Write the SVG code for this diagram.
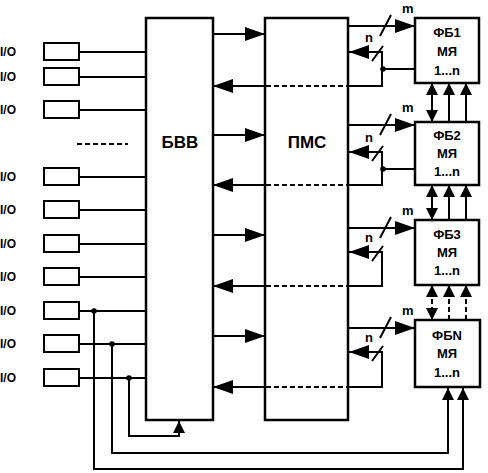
<svg xmlns="http://www.w3.org/2000/svg" width="488" height="473" viewBox="0 0 488 473">
<style>
text{font-family:"Liberation Sans",Arial,sans-serif;font-weight:bold;fill:#000}
.io{font-size:12px}
.big{font-size:17px;text-anchor:middle}
.fb{font-size:13px;text-anchor:middle}
.lbl{font-size:13px}
.box{fill:#fff;stroke:#000;stroke-width:2.5}
.w{fill:none;stroke:#000;stroke-width:2}
.d{stroke-dasharray:5 3}
</style>
<defs>
<marker id="ah" markerUnits="userSpaceOnUse" markerWidth="20" markerHeight="14" refX="20" refY="7" orient="auto"><path d="M0,0L20,7L0,14z"/></marker>
<marker id="as" markerUnits="userSpaceOnUse" markerWidth="12" markerHeight="12" refX="12" refY="6" orient="auto-start-reverse"><path d="M0,0L12,6L0,12z"/></marker>
</defs>
<rect width="488" height="473" fill="#fff"/>

<g id="connectors">
<path class="w" d="M79,52H146M79,77H146M79,110H146M79,177H146M79,210H146M79,244H146M79,277H146M79,311H146M79,344H146M79,378H146"/>
<path class="w d" d="M77,144H128"/>
<!-- BBV to PMC -->
<path class="w" marker-end="url(#ah)" d="M213,34H265"/>
<path class="w" marker-end="url(#ah)" d="M213,135H265"/>
<path class="w" marker-end="url(#ah)" d="M213,235H265"/>
<path class="w" marker-end="url(#ah)" d="M213,336H265"/>
<!-- PMC to BBV -->
<path class="w" marker-end="url(#ah)" d="M265,86H213"/>
<path class="w" marker-end="url(#ah)" d="M265,185H213"/>
<path class="w" marker-end="url(#ah)" d="M265,286H213"/>
<path class="w" marker-end="url(#ah)" d="M265,387H213"/>
<path class="w d" d="M266,86H347M266,185H347M266,286H347M266,387H347"/>
<!-- loops n -->
<path class="w" marker-end="url(#ah)" d="M348,86H382V52H349"/>
<path class="w" marker-end="url(#ah)" d="M348,185H382V152H349"/>
<path class="w" marker-end="url(#ah)" d="M348,286H382V252H349"/>
<path class="w" marker-end="url(#ah)" d="M348,387H382V352H349"/>
<path class="w" d="M372,61L383,46M372,161L383,146M372,261L383,246M372,361L383,346"/>
<path class="w" d="M382,69H415M382,169H415"/>
<circle cx="383" cy="69" r="2.8"/>
<circle cx="383" cy="169" r="2.8"/>
<!-- PMC to FB m -->
<path class="w" marker-end="url(#ah)" d="M349,26H415"/>
<path class="w" marker-end="url(#ah)" d="M349,125H415"/>
<path class="w" marker-end="url(#ah)" d="M349,228H415"/>
<path class="w" marker-end="url(#ah)" d="M349,328H415"/>
<path class="w" d="M380,36L391,15M380,135L391,114M380,238L391,217M380,338L391,317"/>
<!-- between FB boxes -->
<path class="w" marker-start="url(#as)" marker-end="url(#as)" d="M432,122V83"/>
<path class="w" marker-end="url(#as)" d="M449,122V83"/>
<path class="w" marker-end="url(#as)" d="M466,122V83"/>
<path class="w" marker-start="url(#as)" marker-end="url(#as)" d="M432,220V185"/>
<path class="w" marker-end="url(#as)" d="M449,220V185"/>
<path class="w" marker-end="url(#as)" d="M466,220V185"/>
<path class="w d" marker-start="url(#as)" marker-end="url(#as)" d="M432,320V285"/>
<path class="w d" marker-end="url(#as)" d="M449,320V285"/>
<path class="w d" marker-end="url(#as)" d="M466,320V285"/>
<!-- bottom feedback -->
<path class="w" marker-end="url(#as)" d="M112,344V453H448V388"/>
<path class="w" marker-end="url(#as)" d="M94,311V469H463V388"/>
<path class="w" marker-end="url(#as)" d="M129,378V436H179V421"/>
<circle cx="94" cy="311" r="2.8"/>
<circle cx="112" cy="344" r="2.8"/>
<circle cx="129" cy="378" r="2.8"/>
<!-- labels -->
<text class="lbl" x="402" y="13">m</text>
<text class="lbl" x="402" y="112">m</text>
<text class="lbl" x="402" y="215">m</text>
<text class="lbl" x="402" y="315">m</text>
<text class="lbl" x="365" y="42">n</text>
<text class="lbl" x="365" y="142">n</text>
<text class="lbl" x="365" y="242">n</text>
<text class="lbl" x="365" y="342">n</text>
</g>

<g id="io1"><rect class="box" x="44" y="43" width="35" height="17" style="stroke-width:2"/><text class="io" x="0" y="56">I/O</text></g>
<g id="io2"><rect class="box" x="44" y="68" width="35" height="17" style="stroke-width:2"/><text class="io" x="0" y="81">I/O</text></g>
<g id="io3"><rect class="box" x="44" y="101" width="35" height="17" style="stroke-width:2"/><text class="io" x="0" y="114">I/O</text></g>
<g id="io4"><rect class="box" x="44" y="168" width="35" height="17" style="stroke-width:2"/><text class="io" x="0" y="181">I/O</text></g>
<g id="io5"><rect class="box" x="44" y="201" width="35" height="17" style="stroke-width:2"/><text class="io" x="0" y="214">I/O</text></g>
<g id="io6"><rect class="box" x="44" y="235" width="35" height="17" style="stroke-width:2"/><text class="io" x="0" y="248">I/O</text></g>
<g id="io7"><rect class="box" x="44" y="268" width="35" height="17" style="stroke-width:2"/><text class="io" x="0" y="281">I/O</text></g>
<g id="io8"><rect class="box" x="44" y="302" width="35" height="17" style="stroke-width:2"/><text class="io" x="0" y="315">I/O</text></g>
<g id="io9"><rect class="box" x="44" y="335" width="35" height="17" style="stroke-width:2"/><text class="io" x="0" y="348">I/O</text></g>
<g id="io10"><rect class="box" x="44" y="369" width="35" height="17" style="stroke-width:2"/><text class="io" x="0" y="382">I/O</text></g>

<g id="bbv"><rect class="box" x="146" y="18" width="67" height="402" style="fill:none"/><text class="big" x="180" y="148">БВВ</text></g>
<g id="pmc"><rect class="box" x="265" y="18" width="83" height="402" style="fill:none"/><text class="big" x="307" y="148">ПМС</text></g>

<g id="fb1"><rect class="box" x="415" y="18" width="64" height="65"/><text class="fb" x="447" y="37">ФБ1</text><text class="fb" x="447" y="56">МЯ</text><text class="fb" x="447" y="75">1...n</text></g>
<g id="fb2"><rect class="box" x="415" y="122" width="64" height="63"/><text class="fb" x="447" y="140">ФБ2</text><text class="fb" x="447" y="158">МЯ</text><text class="fb" x="447" y="176">1...n</text></g>
<g id="fb3"><rect class="box" x="415" y="220" width="64" height="65"/><text class="fb" x="447" y="239">ФБ3</text><text class="fb" x="447" y="257">МЯ</text><text class="fb" x="447" y="275">1...n</text></g>
<g id="fbn"><rect class="box" x="415" y="320" width="65" height="67"/><text class="fb" x="447" y="340">ФБN</text><text class="fb" x="447" y="358">МЯ</text><text class="fb" x="447" y="377">1...n</text></g>
</svg>
